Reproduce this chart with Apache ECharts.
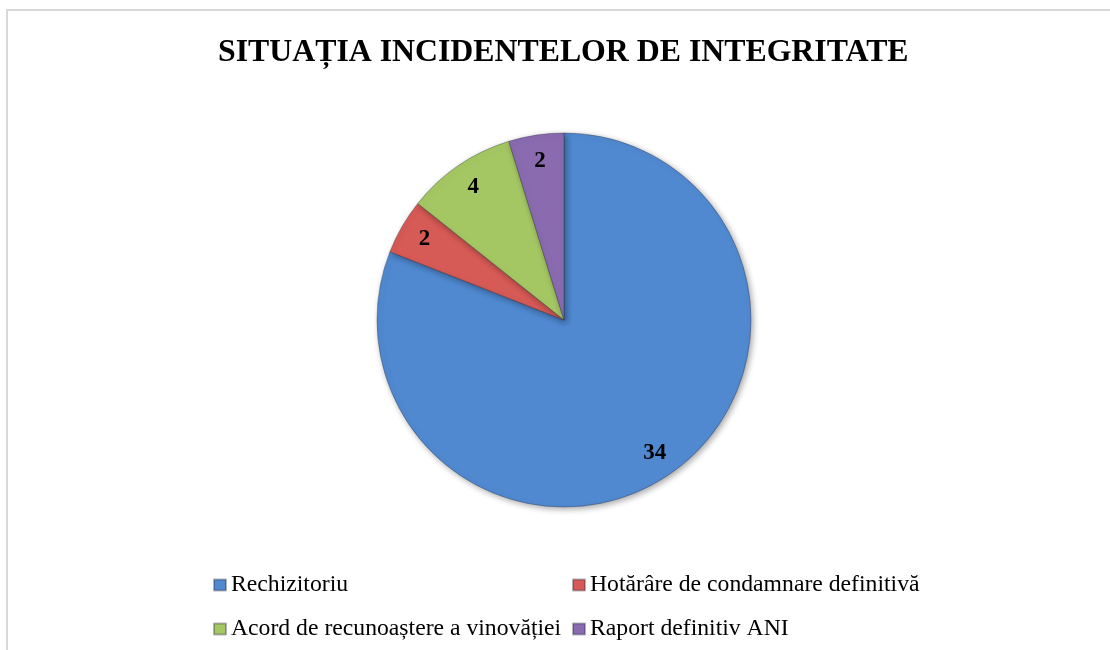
<!DOCTYPE html>
<html>
<head>
<meta charset="utf-8">
<script src="https://cdn.jsdelivr.net/npm/echarts@6/dist/echarts.min.js"></script>
<style>
  html, body { margin: 0; padding: 0; background: #fff; }
  #chart-container { width: 1110px; height: 650px; }
</style>
</head>
<body>
<div id="chart-container"></div>
<script>
var dom = document.getElementById("chart-container");
var myChart = echarts.init(dom, null, { renderer: "canvas" });

const categories = [
  "Rechizitoriu",
  "Hotărâre de condamnare definitivă",
  "Acord de recunoaștere a vinovăției",
  "Raport definitiv ANI",
];
const values = [34, 2, 4, 2];
const colors = ["#5089D0", "#D65A55", "#A4C763", "#8A6BB0"];

const pieData = categories.map(function (name, i) {
  return { name: name, value: values[i], itemStyle: { color: colors[i] } };
});

const serif = "'Liberation Serif', 'Times New Roman', serif";

// one legend per slot, so the two columns line up like the original
const legendSlots = [
  { left: 213, top: 573 },
  { left: 572, top: 573 },
  { left: 213, top: 617 },
  { left: 572, top: 617 },
];
const legends = categories.map(function (name, i) {
  return {
    data: [name],
    left: legendSlots[i].left,
    top: legendSlots[i].top,
    padding: 0,
    icon: "rect",
    itemWidth: 12,
    itemHeight: 11,
    selectedMode: false,
    textStyle: {
      fontFamily: serif,
      fontSize: 23.7,
      lineHeight: 24,
      color: "#000",
    },
  };
});

var option = {
  animation: false,
  backgroundColor: "#fff",
  title: {
    text: "SITUAȚIA INCIDENTELOR DE INTEGRITATE",
    left: 213,
    top: 32,
    textStyle: {
      fontFamily: serif,
      fontWeight: "bold",
      fontSize: 31.8,
      color: "#000",
    },
  },
  graphic: [
    {
      type: "rect",
      silent: true,
      shape: { x: 7, y: 10, width: 1120, height: 700 },
      style: { fill: "none", stroke: "#d9d9d9", lineWidth: 2 },
    },
  ],
  legend: legends,
  series: [
    {
      type: "pie",
      center: [564, 320],
      radius: 187,
      startAngle: 90,
      clockwise: true,
      label: { show: false },
      labelLine: { show: false },
      emphasis: { disabled: true },
      itemStyle: {
        borderColor: "rgba(40,40,60,0.35)",
        borderWidth: 1,
        shadowBlur: 6,
        shadowOffsetX: 2,
        shadowOffsetY: 2,
        shadowColor: "rgba(0,0,0,0.35)",
      },
      data: pieData,
    },
    {
      // transparent ring only used to place the value labels near the rim
      type: "pie",
      center: [564, 320],
      radius: [124, 192],
      startAngle: 90,
      clockwise: true,
      silent: true,
      emphasis: { disabled: true },
      itemStyle: { color: "rgba(0,0,0,0)" },
      labelLine: { show: false },
      label: {
        show: true,
        position: "inside",
        formatter: "{c}",
        fontFamily: serif,
        fontWeight: "bold",
        fontSize: 23,
        color: "#000",
      },
      data: categories.map(function (name, i) {
        return { name: name, value: values[i] };
      }),
    },
  ],
};

myChart.setOption(option);
window.addEventListener("resize", myChart.resize);
</script>
</body>
</html>
